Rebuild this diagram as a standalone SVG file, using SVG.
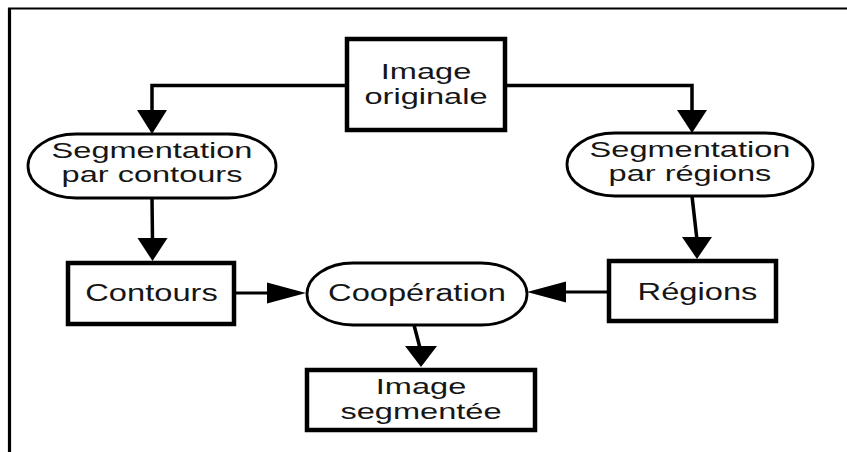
<svg xmlns="http://www.w3.org/2000/svg" width="847" height="452" viewBox="0 0 847 452">
  <style>
    .box { fill: #fff; stroke: #000; stroke-width: 4.5; }
    .pill { fill: #fff; stroke: #000; stroke-width: 2.8; }
    .lbl { font-family: "Liberation Sans", Arial, sans-serif; font-size: 23px; fill: #161616; text-anchor: middle; }
    .two { font-size: 22px; }
    .wire { fill: none; stroke: #000; stroke-width: 3.5; stroke-linejoin: miter; }
    .head { fill: #000; }
  </style>

  <rect width="847" height="452" fill="#fff"/>

  <!-- page frame -->
  <g id="frame">
    <line x1="8" y1="8.5" x2="847" y2="8.5" stroke="#000" stroke-width="1.8"/>
    <line x1="9.5" y1="8" x2="9.5" y2="452" stroke="#000" stroke-width="3.2"/>
  </g>

  <!-- connectors -->
  <g id="connectors">
    <polyline class="wire" points="345,85.5 152,85.5 152,112"/>
    <polygon class="head" points="137,110 167,110 152,134"/>

    <polyline class="wire" points="507,85.5 692,85.5 692,112"/>
    <polygon class="head" points="677,110 707,110 692,133"/>

    <line class="wire" x1="152" y1="198" x2="152.5" y2="240"/>
    <polygon class="head" points="137.5,238 167.5,238 152.5,261"/>

    <line class="wire" x1="692" y1="196" x2="697" y2="240"/>
    <polygon class="head" points="682,237 712,237 697,259"/>

    <line class="wire" x1="236" y1="293" x2="270" y2="293" style="stroke-width:2.8"/>
    <polygon class="head" points="267,282.5 267,303.5 306,293"/>

    <line class="wire" x1="607" y1="292" x2="562" y2="292" style="stroke-width:2.8"/>
    <polygon class="head" points="566,281.5 566,302.5 527,292"/>

    <line class="wire" x1="414" y1="325" x2="420" y2="348"/>
    <polygon class="head" points="405,346 437,346 421,367"/>
  </g>

  <g id="image-originale">
    <rect class="box" x="347" y="39" width="158" height="91"/>
    <text class="lbl two" transform="translate(426,79) scale(1.48,1)"><tspan x="0" y="0">Image</tspan><tspan x="0" dy="25">originale</tspan></text>
  </g>

  <g id="segmentation-contours">
    <rect class="pill" x="28" y="134" width="248" height="64" rx="48" ry="32"/>
    <text class="lbl two" transform="translate(152,157.5) scale(1.48,1)"><tspan x="0" y="0">Segmentation</tspan><tspan x="0" dy="25">par contours</tspan></text>
  </g>

  <g id="segmentation-regions">
    <rect class="pill" x="567" y="133" width="246" height="63" rx="48" ry="31.5"/>
    <text class="lbl two" transform="translate(690,156.5) scale(1.48,1)"><tspan x="0" y="0">Segmentation</tspan><tspan x="0" dy="25">par régions</tspan></text>
  </g>

  <g id="contours">
    <rect class="box" x="68" y="263" width="166" height="61"/>
    <text class="lbl" transform="translate(151.5,300.5) scale(1.42,1)">Contours</text>
  </g>

  <g id="cooperation">
    <rect class="pill" x="307" y="263" width="220" height="62" rx="46" ry="31"/>
    <text class="lbl" transform="translate(417,301) scale(1.42,1)">Coopération</text>
  </g>

  <g id="regions">
    <rect class="box" x="609" y="261" width="167" height="60"/>
    <text class="lbl" transform="translate(697.5,300) scale(1.42,1)">Régions</text>
  </g>

  <g id="image-segmentee">
    <rect class="box" x="307" y="370" width="228" height="60"/>
    <text class="lbl two" transform="translate(421,394) scale(1.48,1)"><tspan x="0" y="0">Image</tspan><tspan x="0" dy="25">segmentée</tspan></text>
  </g>
</svg>
